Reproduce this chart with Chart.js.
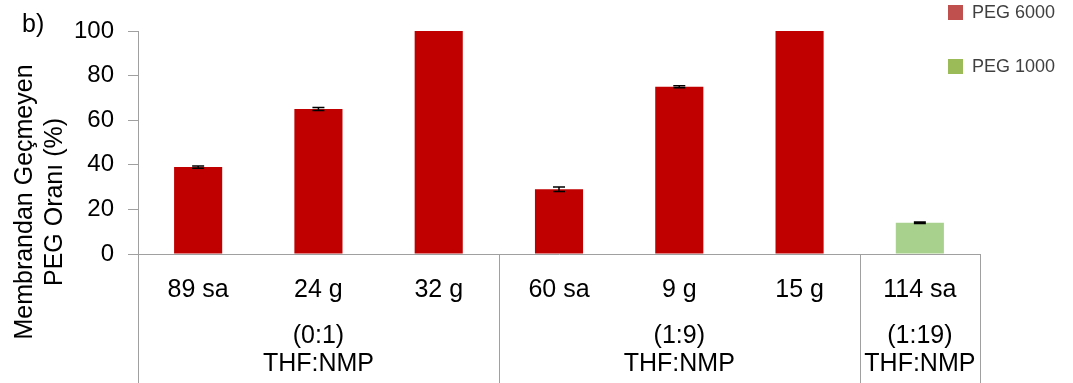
<!DOCTYPE html>
<html>
<head>
<meta charset="utf-8">
<script src="https://cdn.jsdelivr.net/npm/chart.js@4.4.1/dist/chart.umd.min.js"></script>
<style>
  html, body { margin: 0; padding: 0; background: #ffffff; }
  #wrap { width: 1073px; height: 383px; position: relative; }
</style>
</head>
<body>
<div id="wrap"><canvas id="c" width="1073" height="383"></canvas></div>
<script>
// ---- Data ----
const categories = ['89 sa', '24 g', '32 g', '60 sa', '9 g', '15 g', '114 sa'];
const groupLabels = [['(0:1)', 'THF:NMP'], ['(1:9)', 'THF:NMP'], ['(1:19)', 'THF:NMP']];
const groupSizes = [3, 3, 1];
const peg6000 = [39, 65, 100, 29, 75, 100, null];
const peg1000 = [null, null, null, null, null, null, 14];
const peg6000Err = [0.5, 0.7, 0, 1.0, 0.5, 0, null];
const peg1000Err = [null, null, null, null, null, null, 0.3];
const yTicks = [0, 20, 40, 60, 80, 100];
const seriesNames = ['PEG 6000', 'PEG 1000'];
const yTitle = ['Membrandan Geçmeyen', 'PEG Oranı (%)'];
const panelLabel = 'b)';

const FONT = "'Liberation Sans', Arial, sans-serif";
const AXIS_COLOR = '#A0A0A0';
const barColors = ['#C00000', '#A9D18E'];
const legendColors = ['#C0504D', '#9BBB59'];

const errorBarPlugin = {
  id: 'errorBars',
  afterDatasetsDraw(chart) {
    const ctx = chart.ctx;
    const yScale = chart.scales.y;
    const errs = [peg6000Err, peg1000Err];
    ctx.save();
    ctx.strokeStyle = '#000000';
    ctx.lineWidth = 1.5;
    chart.data.datasets.forEach((ds, di) => {
      const meta = chart.getDatasetMeta(di);
      ds.data.forEach((v, i) => {
        const e = errs[di][i];
        if (v === null || e === null || !e) return;
        const x = meta.data[i].x;
        const yT = yScale.getPixelForValue(v + e);
        const yB = yScale.getPixelForValue(v - e);
        ctx.beginPath();
        ctx.moveTo(x, yT); ctx.lineTo(x, yB);
        ctx.moveTo(x - 6, yT); ctx.lineTo(x + 6, yT);
        ctx.moveTo(x - 6, yB); ctx.lineTo(x + 6, yB);
        ctx.stroke();
      });
    });
    ctx.restore();
  }
};

const decorPlugin = {
  id: 'decor',
  afterDraw(chart) {
    const ctx = chart.ctx;
    const area = chart.chartArea;
    const catW = (area.right - area.left) / categories.length;
    ctx.save();
    // group separators
    ctx.strokeStyle = AXIS_COLOR;
    ctx.lineWidth = 1;
    let idx = 0;
    const bounds = [0];
    groupSizes.forEach(s => { idx += s; bounds.push(idx); });
    bounds.forEach(b => {
      const x = Math.round(area.left + b * catW) + 0.5;
      ctx.beginPath();
      ctx.moveTo(x, area.bottom);
      ctx.lineTo(x, chart.height);
      ctx.stroke();
    });
    // group labels
    ctx.fillStyle = '#000000';
    ctx.font = '25px ' + FONT;
    ctx.textAlign = 'center';
    ctx.textBaseline = 'middle';
    for (let g = 0; g < groupSizes.length; g++) {
      const cx = area.left + (bounds[g] + bounds[g + 1]) / 2 * catW;
      ctx.fillText(groupLabels[g][0], cx, 336);
      ctx.fillText(groupLabels[g][1], cx, 364);
    }
    // y title
    ctx.textBaseline = 'alphabetic';
    ctx.font = '25px ' + FONT;
    const bl = [32, 62];
    yTitle.forEach((t, i) => {
      ctx.save();
      ctx.translate(bl[i], 202);
      ctx.rotate(-Math.PI / 2);
      ctx.fillText(t, 0, 0);
      ctx.restore();
    });
    // panel label
    ctx.textAlign = 'left';
    ctx.font = '25px ' + FONT;
    ctx.fillText(panelLabel, 22, 32);
    // legend
    ctx.font = '18px ' + FONT;
    ctx.textBaseline = 'middle';
    const ly = [12, 66];
    seriesNames.forEach((n, i) => {
      ctx.fillStyle = legendColors[i];
      ctx.fillRect(948, ly[i] - 7, 15, 15);
      ctx.fillStyle = '#404040';
      ctx.fillText(n, 972, ly[i] + 1);
    });
    ctx.restore();
  }
};

new Chart(document.getElementById('c'), {
  type: 'bar',
  data: {
    labels: categories,
    datasets: [
      { label: seriesNames[0], data: peg6000, backgroundColor: barColors[0], borderWidth: 0,
        grouped: false, barPercentage: 0.4, categoryPercentage: 1.0 },
      { label: seriesNames[1], data: peg1000, backgroundColor: barColors[1], borderWidth: 0,
        grouped: false, barPercentage: 0.4, categoryPercentage: 1.0 }
    ]
  },
  options: {
    responsive: false,
    devicePixelRatio: 1,
    animation: false,
    layout: { padding: { left: 0, right: 93, top: 31, bottom: 0 } },
    plugins: { legend: { display: false }, tooltip: { enabled: false }, title: { display: false } },
    scales: {
      x: {
        grid: { display: false },
        border: { display: true, color: AXIS_COLOR, width: 1 },
        ticks: { font: { family: FONT, size: 25 }, color: '#000000', padding: 13, maxRotation: 0, autoSkip: false },
        afterFit(scale) { scale.height = 129; }
      },
      y: {
        min: 0, max: 100,
        afterBuildTicks(scale) { scale.ticks = yTicks.map(v => ({ value: v })); },
        grid: { display: true, drawOnChartArea: false, drawTicks: true, tickLength: 10, color: AXIS_COLOR },
        border: { display: true, color: AXIS_COLOR, width: 1 },
        ticks: { font: { family: FONT, size: 24 }, color: '#000000', padding: 14 },
        afterFit(scale) { scale.width = 138; }
      }
    }
  },
  plugins: [errorBarPlugin, decorPlugin]
});
</script>
</body>
</html>
